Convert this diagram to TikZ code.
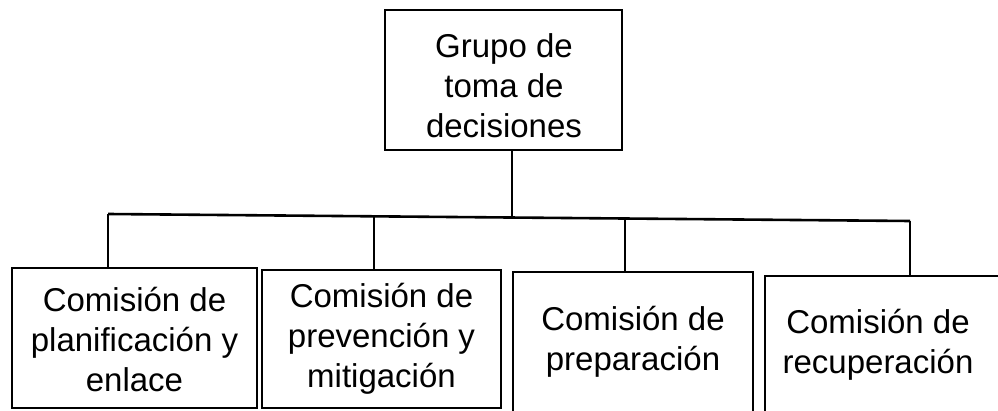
\documentclass[tikz,border=0pt]{standalone}
\usepackage{fontspec}
\setmainfont{Liberation Sans}
\begin{document}
\begin{tikzpicture}[x=1pt,y=-1pt,
  boxst/.style={draw=black,line width=2.6pt,rectangle,inner sep=0pt},
  txt/.style={align=center,inner sep=0pt,font=\fontsize{33}{40}\selectfont},
  conn/.style={draw=black,line width=2.6pt}]
\useasboundingbox (0,0) rectangle (998,411);
\clip (0,0) rectangle (998,411);
\fill[white] (0,0) rectangle (998,411);
% boxes
\node[boxst,minimum width=237pt,minimum height=140pt] (top) at (503.5,80) {};
\node[boxst,minimum width=245pt,minimum height=140pt] (b1) at (134.5,338) {};
\node[boxst,minimum width=239pt,minimum height=138pt] (b2) at (381.5,339) {};
\node[boxst,minimum width=240pt,minimum height=148pt] (b3) at (633,346) {};
\node[boxst,minimum width=240pt,minimum height=144pt] (b4) at (885,348) {};
% texts
\node[txt] (ttop) at (504,86) {Grupo de\\toma de\\decisiones};
\node[txt] (t1) at (134.5,340) {Comisión de\\planificación y\\enlace};
\node[txt] (t2) at (381.5,339) {Comisión de\\prevención y\\mitigación};
\node[txt] (t3) at (633,342) {Comisión de\\preparación};
\node[txt] (t4) at (878,345) {Comisión de\\recuperación};
% connectors
\coordinate (jL) at (108,214);
\coordinate (j2) at (374,216.3);
\coordinate (jM) at (512,217.3);
\coordinate (j3) at (625,218.5);
\coordinate (jR) at (910,221);
\draw[conn] (jL) -- (jR);
\draw[conn] (top.south -| jM) -- (jM);
\draw[conn] (jL) -- (jL |- b1.north);
\draw[conn] (j2) -- (j2 |- b2.north);
\draw[conn] (j3) -- (j3 |- b3.north);
\draw[conn] (jR) -- (jR |- b4.north);
\end{tikzpicture}
\end{document}
